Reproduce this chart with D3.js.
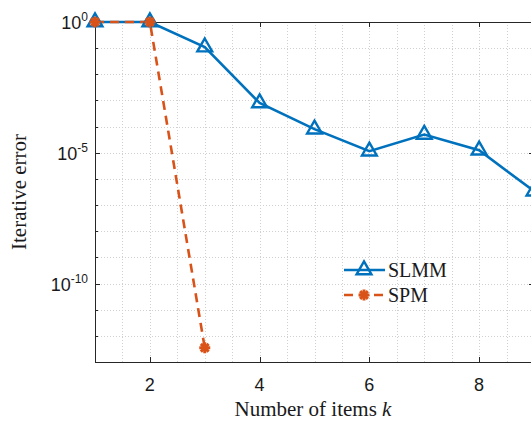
<!DOCTYPE html>
<html>
<head>
<meta charset="utf-8">
<script src="https://cdn.jsdelivr.net/npm/d3@7"></script>
<style>
  body { margin: 0; background: #fff; }
  svg { display: block; }
</style>
</head>
<body>
<div id="chart"></div>
<script>
// values
const items = [1, 2, 3, 4, 5, 6, 7, 8, 9];
const slmmErr = [1, 1, 1.1e-1, 8e-4, 8e-5, 1.15e-5, 5e-5, 1.25e-5, 3.4e-7];
const spmItems = [1, 2, 3];
const spmErr = [1, 1, 3.5e-13];
const yMajor = [1e0, 1e-5, 1e-10];
const yExp = [0, -5, -10];
const xMajor = [2, 4, 6, 8];

const W = 531, H = 421;
const pL = 95, pT = 22, pR = 534, pB = 362;

const svg = d3.select('#chart').append('svg').attr('width', W).attr('height', H);

let x = d3.scaleLinear().domain([1, 9]).range([pL, pR]);
let y = d3.scaleLog().domain([1e-13, 1e0]).range([pB, pT]);

// grid
let gridX = d3.range(1, 9.01, 0.5);
let gridY = d3.range(-13, 1).map(e => Math.pow(10, e));
const grid = svg.append('g').attr('stroke', '#d0d0d0').attr('stroke-width', 1).attr('stroke-dasharray', '1,2');
grid.selectAll('.gx').data(gridX).enter().append('line')
  .attr('x1', d => Math.round(x(d)) + 0.5).attr('x2', d => Math.round(x(d)) + 0.5)
  .attr('y1', pT).attr('y2', pB);
grid.selectAll('.gy').data(gridY).enter().append('line')
  .attr('y1', d => Math.round(y(d)) + 0.5).attr('y2', d => Math.round(y(d)) + 0.5)
  .attr('x1', pL).attr('x2', pR);

// box + ticks
const ax = svg.append('g').attr('stroke', '#262626').attr('stroke-width', 1);
ax.append('rect').attr('x', pL + 0.5).attr('y', pT + 0.5)
  .attr('width', pR - pL).attr('height', pB - pT).attr('fill', 'none');
let tl = 5;
ax.selectAll('.tb').data(xMajor).enter().append('line')
  .attr('x1', d => Math.round(x(d)) + 0.5).attr('x2', d => Math.round(x(d)) + 0.5)
  .attr('y1', pB).attr('y2', pB - tl);
ax.selectAll('.tt').data(xMajor).enter().append('line')
  .attr('x1', d => Math.round(x(d)) + 0.5).attr('x2', d => Math.round(x(d)) + 0.5)
  .attr('y1', pT).attr('y2', pT + tl);
ax.selectAll('.tl').data(gridY).enter().append('line')
  .attr('y1', d => Math.round(y(d)) + 0.5).attr('y2', d => Math.round(y(d)) + 0.5)
  .attr('x1', pL).attr('x2', d => pL + (yMajor.includes(d) ? tl : 3));
ax.selectAll('.tr').data(gridY).enter().append('line')
  .attr('y1', d => Math.round(y(d)) + 0.5).attr('y2', d => Math.round(y(d)) + 0.5)
  .attr('x1', pR).attr('x2', d => pR - (yMajor.includes(d) ? tl : 3));

// tick labels
svg.selectAll('.xl').data(xMajor).enter().append('text')
  .attr('font-family', 'Liberation Sans')
  .attr('x', d => x(d)).attr('y', 391).attr('text-anchor', 'middle')
  .attr('font-size', 18).attr('fill', '#1a1a1a')
  .text(d => d);
let yl = svg.selectAll('.yl').data(yMajor).enter().append('text')
  .attr('font-family', 'Liberation Sans')
  .attr('x', 88).attr('y', d => y(d) + 7).attr('text-anchor', 'end')
  .attr('font-size', 18).attr('fill', '#1a1a1a');
yl.append('tspan').text('10');
yl.append('tspan').attr('dy', -8).attr('font-size', 12).text((d, i) => yExp[i]);

// axis titles
let xt = svg.append('text').attr('font-family', 'Liberation Serif').attr('x', 313).attr('y', 416)
  .attr('text-anchor', 'middle').attr('font-size', 21).attr('fill', '#1a1a1a');
xt.append('tspan').text('Number of items ');
xt.append('tspan').attr('font-style', 'italic').text('k');
svg.append('text').attr('font-family', 'Liberation Serif').attr('transform', 'translate(26,192) rotate(-90)')
  .attr('text-anchor', 'middle').attr('font-size', 21)
  .attr('fill', '#1a1a1a').text('Iterative error');

// series
const blue = '#0072BD', orange = '#D95319';
const plot = svg.append('g');
let line = d3.line().x(d => x(d[0])).y(d => y(d[1]));
let slmm = items.map((k, i) => [k, slmmErr[i]]);
let spm = spmItems.map((k, i) => [k, spmErr[i]]);

plot.append('path').datum(slmm).attr('d', line).attr('fill', 'none')
  .attr('stroke', blue).attr('stroke-width', 2.6);
plot.append('path').datum(spm).attr('d', line).attr('fill', 'none')
  .attr('stroke', orange).attr('stroke-width', 2.6).attr('stroke-dasharray', '9,6');

let tri = d3.symbol().type(d3.symbolTriangle).size(95);
plot.selectAll('.m1').data(slmm).enter().append('path')
  .attr('d', tri).attr('transform', d => 'translate(' + x(d[0]) + ',' + y(d[1]) + ')')
  .attr('fill', 'none').attr('stroke', blue).attr('stroke-width', 2.4);

function star(g, cx, cy) {
  let r = 5.5;
  let s = g.append('g').attr('transform', 'translate(' + cx + ',' + cy + ')')
    .attr('stroke', orange).attr('stroke-width', 3);
  [0, 45, 90, 135].forEach(a => {
    let rad = a * Math.PI / 180;
    s.append('line').attr('x1', -r * Math.cos(rad)).attr('y1', -r * Math.sin(rad))
      .attr('x2', r * Math.cos(rad)).attr('y2', r * Math.sin(rad));
  });
}
spm.forEach(d => star(plot, x(d[0]), y(d[1])));

// legend
const lg = svg.append('g');
lg.append('line').attr('x1', 344).attr('x2', 385).attr('y1', 270).attr('y2', 270)
  .attr('stroke', blue).attr('stroke-width', 2.6);
lg.append('path').attr('d', tri).attr('transform', 'translate(364,270)')
  .attr('fill', 'none').attr('stroke', blue).attr('stroke-width', 2.4);
lg.append('line').attr('x1', 344).attr('x2', 385).attr('y1', 295).attr('y2', 295)
  .attr('stroke', orange).attr('stroke-width', 2.6).attr('stroke-dasharray', '9,6');
star(lg, 364, 295);
lg.append('text').attr('font-family', 'Liberation Serif').attr('x', 388).attr('y', 277).attr('font-size', 20)
  .attr('fill', '#1a1a1a').text('SLMM');
lg.append('text').attr('font-family', 'Liberation Serif').attr('x', 388).attr('y', 302).attr('font-size', 20)
  .attr('fill', '#1a1a1a').text('SPM');
</script>
</body>
</html>
